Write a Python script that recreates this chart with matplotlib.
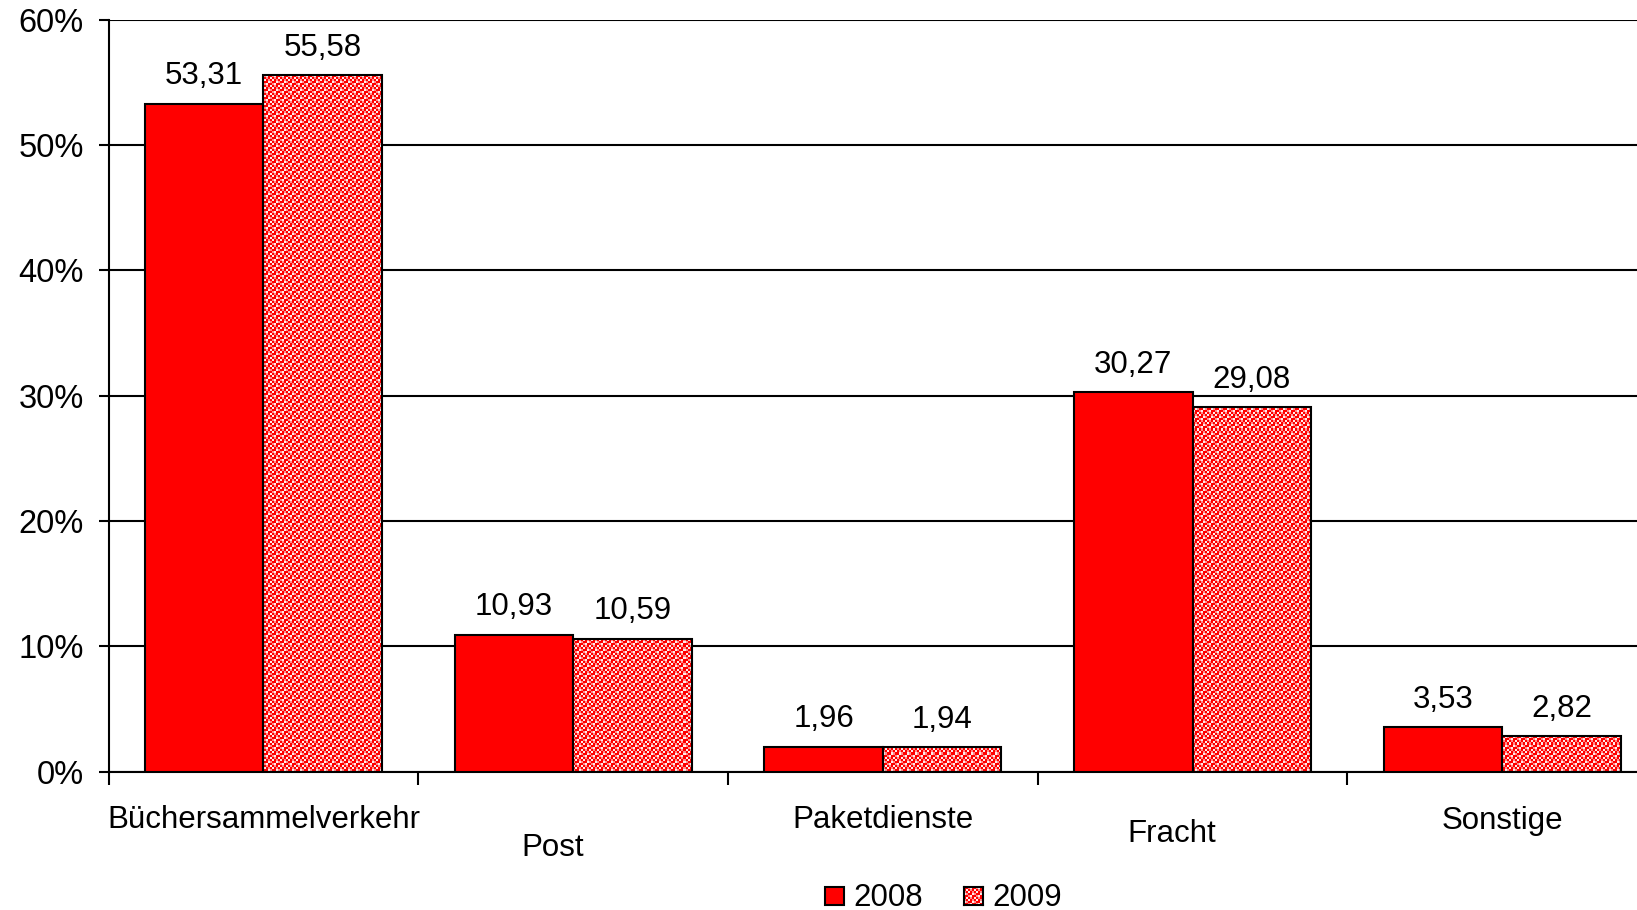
import matplotlib.pyplot as plt
import numpy as np
from matplotlib.patches import Rectangle
from matplotlib.transforms import blended_transform_factory

# data (share in %)
categories = ['Büchersammelverkehr', 'Post', 'Paketdienste', 'Fracht', 'Sonstige']
values_2008 = [53.31, 10.93, 1.96, 30.27, 3.53]
values_2009 = [55.58, 10.59, 1.94, 29.08, 2.82]
years = ['2008', '2009']
yticks = [0, 10, 20, 30, 40, 50, 60]

# Excel style staggered category labels: (x shift, px below axis)
label_shift = [0.0, -0.065, 0.0, -0.068, 0.0]
label_drop = [49, 77, 49, 63, 49]

plt.rcParams['font.family'] = ['Liberation Sans', 'DejaVu Sans']

W, H, DPI = 1637, 910, 100
fig = plt.figure(figsize=(W / DPI, H / DPI), dpi=DPI)
ax = fig.add_axes([108.6 / W, 1 - 771.5 / H, 1548.5 / W, 751.7 / H])

# checker-like fill used by Excel for the 2009 series
red = np.array([255, 0, 0]) / 255
pink = np.array([255, 140, 140]) / 255
white = np.array([255, 236, 236]) / 255
tile_idx = np.array([[0, 0, 1, 2],
                     [0, 2, 0, 1],
                     [1, 0, 2, 0],
                     [2, 1, 0, 0]])
palette = np.array([red, pink, white])
pattern = palette[np.tile(tile_idx, (94, 194))]

x = np.arange(len(categories))
bw = 0.383
ax.bar(x - bw / 2, values_2008, width=bw, color='#FF0000', edgecolor='black',
       linewidth=1.5, zorder=3)
bars09 = ax.bar(x + bw / 2, values_2009, width=bw, facecolor='none',
                edgecolor='black', linewidth=1.5, zorder=4)
for b in bars09:
    im = ax.imshow(pattern, extent=(-0.5, 4.5, 0, 60), aspect='auto',
                   interpolation='nearest', zorder=2)
    im.set_clip_path(b)

# value labels, German decimal comma
for xs, vals in ((x - bw / 2, values_2008), (x + bw / 2, values_2009)):
    for xi, v in zip(xs, vals):
        ax.annotate(f'{v:.2f}'.replace('.', ','), (xi, v), xytext=(0, 9),
                    textcoords='offset points', ha='center', va='bottom',
                    fontsize=22.5)

ax.set_xlim(-0.5, 4.5)
ax.set_ylim(0, 60)
ax.set_yticks(yticks)
ax.set_yticklabels([f'{t}%' for t in yticks], fontsize=23.5)
ax.tick_params(axis='y', length=7, width=1.5, pad=11)
ax.yaxis.grid(True, color='black', linewidth=1.5)
ax.set_axisbelow(True)

ax.set_xticks(np.arange(-0.5, 4.6, 1.0))
ax.set_xticklabels([])
ax.tick_params(axis='x', length=9, width=1.5, direction='out')

trans = blended_transform_factory(ax.transData, ax.transAxes)
for i, name in enumerate(categories):
    ax.annotate(name, (i + label_shift[i], 0), xycoords=trans,
                xytext=(0, -label_drop[i] * 0.72), textcoords='offset points',
                ha='center', va='center', fontsize=22.5)

for s in ('top', 'right'):
    ax.spines[s].set_visible(False)
ax.spines['left'].set_linewidth(1.5)
ax.spines['bottom'].set_linewidth(1.5)

# legend drawn by hand so the 2009 swatch carries the same pattern
fig.patches.append(Rectangle((825 / W, 1 - 905 / H), 19 / W, 18 / H,
                             transform=fig.transFigure, facecolor='#FF0000',
                             edgecolor='black', linewidth=1.5))
lax = fig.add_axes([964 / W, 1 - 905 / H, 19 / W, 18 / H])
lax.imshow(pattern[:9, :10], aspect='auto', interpolation='nearest')
lax.set_xticks([])
lax.set_yticks([])
for s in lax.spines.values():
    s.set_linewidth(1.5)
fig.text(853 / W, 1 - 898 / H, years[0], ha='left', va='center', fontsize=22.5)
fig.text(992 / W, 1 - 898 / H, years[1], ha='left', va='center', fontsize=22.5)

fig.savefig('out.png', dpi=DPI)
